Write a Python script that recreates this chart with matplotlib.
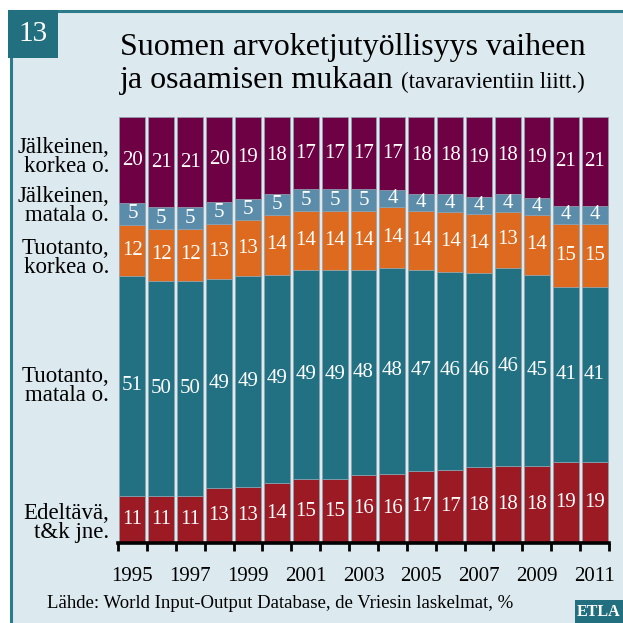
import numpy as np
import matplotlib.pyplot as plt
from matplotlib.patches import Rectangle
from matplotlib.lines import Line2D

# Tiedot (%)
years = list(range(1995, 2012))
edeltava = [11, 11, 11, 13, 13, 14, 15, 15, 16, 16, 17, 17, 18, 18, 18, 19, 19]
tuot_matala = [51, 50, 50, 49, 49, 49, 49, 49, 48, 48, 47, 46, 46, 46, 45, 41, 41]
tuot_korkea = [12, 12, 12, 13, 13, 14, 14, 14, 14, 14, 14, 14, 14, 13, 14, 15, 15]
jalk_matala = [5, 5, 5, 5, 5, 5, 5, 5, 5, 4, 4, 4, 4, 4, 4, 4, 4]
jalk_korkea = [20, 21, 21, 20, 19, 18, 17, 17, 17, 17, 18, 18, 19, 18, 19, 21, 21]

series = [edeltava, tuot_matala, tuot_korkea, jalk_matala, jalk_korkea]
names = ["Edeltävä,\nt&k jne.", "Tuotanto,\nmatala o.", "Tuotanto,\nkorkea o.",
         "Jälkeinen,\nmatala o.", "Jälkeinen,\nkorkea o."]
colors = ["#9c1a24", "#227183", "#dd6a1f", "#5b8dab", "#6e0044"]
name_y = [4.7, 36.8, 66.9, 79.1, 90.6]

SERIF = "Liberation Serif"
W, H = 623, 623
fig = plt.figure(figsize=(W / 100, H / 100), dpi=100)
fig.patch.set_facecolor("white")

# taustapaneeli ja reunat
fig.patches.append(Rectangle((11 / W, 0), 1, 1 - 11 / H, transform=fig.transFigure,
                             facecolor="#dce9ee", edgecolor="none", zorder=-10))
fig.lines.append(Line2D([11 / W, 1], [1 - 11 / H, 1 - 11 / H], transform=fig.transFigure,
                        color="#2b7b8b", lw=2.2, zorder=-5))
fig.lines.append(Line2D([11 / W, 11 / W], [0, 1 - 11 / H], transform=fig.transFigure,
                        color="#2b7b8b", lw=2.2, zorder=-5))
fig.patches.append(Rectangle((8 / W, 1 - 58 / H), 50 / W, 48 / H, transform=fig.transFigure,
                             facecolor="#22707f", edgecolor="none", zorder=-4))
fig.text(33 / W, 1 - 34 / H, "13", color="white", fontsize=21, family=SERIF,
         ha="center", va="center")
fig.patches.append(Rectangle((575 / W, 0), 48 / W, 23 / H, transform=fig.transFigure,
                             facecolor="#22707f", edgecolor="none", zorder=-4))
fig.text(599 / W, 11 / H, "ETLA", color="white", fontsize=11.5, family=SERIF,
         weight="bold", ha="center", va="center")

# otsikko
fig.text(120 / W, 1 - 55 / H, "Suomen arvoketjutyöllisyys vaiheen", fontsize=23,
         family=SERIF, ha="left", va="baseline")
t2 = fig.text(120 / W, 1 - 88 / H, "ja osaamisen mukaan", fontsize=23,
              family=SERIF, ha="left", va="baseline")
r = fig.canvas.get_renderer()
x_end = t2.get_window_extent(r).x1
fig.text((x_end + 7) / W, 1 - 88 / H, "(tavaravientiin liitt.)", fontsize=16.5,
         family=SERIF, ha="left", va="baseline")

ax = fig.add_axes([118 / W, (H - 543) / H, (609 - 118) / W, (543 - 117) / H])
ax.set_facecolor("none")

data = np.array(series, dtype=float)
share = data / data.sum(axis=0) * 100
x = np.arange(len(years))
bottom = np.zeros(len(years))
for i, vals in enumerate(share):
    ax.bar(x, vals, width=0.9, bottom=bottom, color=colors[i],
           edgecolor="#8fa3b0", linewidth=0.5)
    for j in range(len(years)):
        ax.text(x[j], bottom[j] + vals[j] / 2, str(series[i][j]), color="white",
                fontsize=15, family=SERIF, ha="center", va="center")
    ax.text(-0.8, name_y[i], names[i], fontsize=16.5, family=SERIF,
            ha="right", va="center", linespacing=0.88)
    bottom += vals

ax.set_xlim(-0.5, len(years) - 0.5)
ax.set_ylim(0, 100)
for s in ["left", "right", "top"]:
    ax.spines[s].set_visible(False)
ax.spines["bottom"].set_linewidth(2.6)
ax.set_yticks([])
ax.set_xticks(np.arange(-0.5, len(years)), [])
ax.tick_params(axis="x", which="major", length=6, width=2, direction="out")
ax.set_xticks(x[::2], [str(y) for y in years[::2]], minor=True)
ax.tick_params(axis="x", which="minor", length=0, pad=17, labelsize=15)
for t in ax.get_xticklabels(minor=True):
    t.set_family(SERIF)

fig.text(47 / W, 1 - 603 / H, "Lähde: World Input-Output Database, de Vriesin laskelmat, %",
         fontsize=13.5, family=SERIF, ha="left", va="center")

fig.savefig("out.png", dpi=100, facecolor="white")
